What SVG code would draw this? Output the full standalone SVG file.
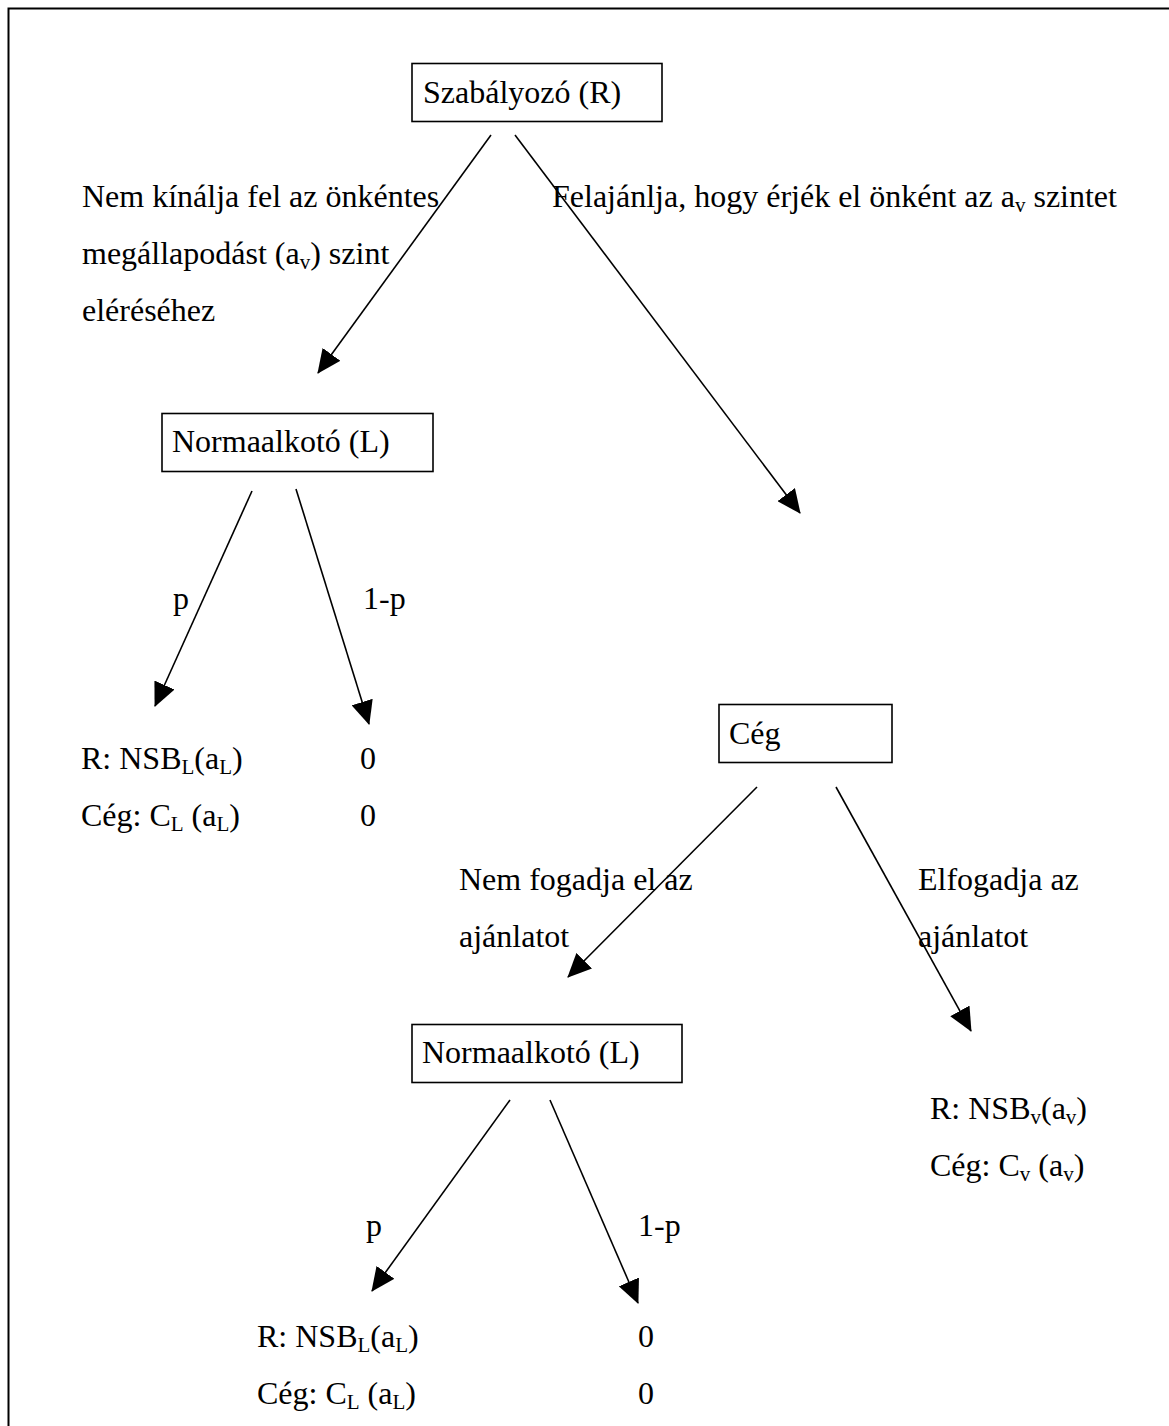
<svg xmlns="http://www.w3.org/2000/svg" width="1169" height="1426" viewBox="0 0 1169 1426">
<style>
text{font-family:"Liberation Serif","Times New Roman",serif;font-size:32px;fill:#000}
.sub{font-size:21px}
.box{fill:#fff;stroke:#000;stroke-width:1.6}
.edge{stroke:#000;stroke-width:1.6;fill:none;marker-end:url(#ah)}
</style>
<defs>
<marker id="ah" markerUnits="userSpaceOnUse" markerWidth="24" markerHeight="22" refX="23" refY="11" orient="auto">
<path d="M0,0 L24,11 L0,22 Z" fill="#000"/>
</marker>
</defs>
<rect width="1169" height="1426" fill="#fff"/>
<polyline points="8.5,1426 8.5,8.5 1169,8.5" fill="none" stroke="#000" stroke-width="2"/>
<g id="connectors">
<line class="edge" x1="491" y1="135" x2="318" y2="373"/>
<line class="edge" x1="515" y1="135" x2="800" y2="513"/>
<line class="edge" x1="252" y1="491" x2="155" y2="706"/>
<line class="edge" x1="296" y1="489" x2="369" y2="724"/>
<line class="edge" x1="757" y1="787" x2="568" y2="977"/>
<line class="edge" x1="836" y1="787" x2="971" y2="1031"/>
<line class="edge" x1="510" y1="1100" x2="372" y2="1291"/>
<line class="edge" x1="550" y1="1100" x2="638" y2="1303"/>
</g>
<g id="node-szabalyozo">
<rect class="box" x="412" y="63.5" width="250" height="58"/>
<text x="423" y="103">Szabályozó (R)</text>
</g>
<g id="label-nem-kinalja">
<text x="82" y="207">Nem kínálja fel az önkéntes</text>
<text x="82" y="264">megállapodást (a<tspan class="sub" dy="5">v</tspan><tspan dy="-5">) szint</tspan></text>
<text x="82" y="321">eléréséhez</text>
</g>
<g id="label-felajanlja">
<text x="552" y="207">Felajánlja, hogy érjék el önként az a<tspan class="sub" dy="5">v</tspan><tspan dy="-5"> szintet</tspan></text>
</g>
<g id="node-normaalkoto-1">
<rect class="box" x="162" y="413.5" width="271" height="58"/>
<text x="172" y="452">Normaalkotó (L)</text>
</g>
<g id="label-p-1"><text x="173" y="609">p</text></g>
<g id="label-1p-1"><text x="363" y="609">1-p</text></g>
<g id="leaf-1">
<text x="81" y="769">R: NSB<tspan class="sub" dy="5">L</tspan><tspan dy="-5">(a</tspan><tspan class="sub" dy="5">L</tspan><tspan dy="-5">)</tspan></text>
<text x="81" y="826">Cég: C<tspan class="sub" dy="5">L</tspan><tspan dy="-5"> (a</tspan><tspan class="sub" dy="5">L</tspan><tspan dy="-5">)</tspan></text>
</g>
<g id="leaf-2">
<text x="360" y="769">0</text>
<text x="360" y="826">0</text>
</g>
<g id="node-ceg">
<rect class="box" x="719" y="704.5" width="173" height="58"/>
<text x="729" y="744">Cég</text>
</g>
<g id="label-nem-fogadja">
<text x="459" y="890">Nem fogadja el az</text>
<text x="459" y="947">ajánlatot</text>
</g>
<g id="label-elfogadja">
<text x="918" y="890">Elfogadja az</text>
<text x="918" y="947">ajánlatot</text>
</g>
<g id="node-normaalkoto-2">
<rect class="box" x="412" y="1024.5" width="270" height="58"/>
<text x="422" y="1063">Normaalkotó (L)</text>
</g>
<g id="leaf-3">
<text x="930" y="1119">R: NSB<tspan class="sub" dy="5">v</tspan><tspan dy="-5">(a</tspan><tspan class="sub" dy="5">v</tspan><tspan dy="-5">)</tspan></text>
<text x="930" y="1176">Cég: C<tspan class="sub" dy="5">v</tspan><tspan dy="-5"> (a</tspan><tspan class="sub" dy="5">v</tspan><tspan dy="-5">)</tspan></text>
</g>
<g id="label-p-2"><text x="366" y="1236">p</text></g>
<g id="label-1p-2"><text x="638" y="1236">1-p</text></g>
<g id="leaf-4">
<text x="257" y="1347">R: NSB<tspan class="sub" dy="5">L</tspan><tspan dy="-5">(a</tspan><tspan class="sub" dy="5">L</tspan><tspan dy="-5">)</tspan></text>
<text x="257" y="1404">Cég: C<tspan class="sub" dy="5">L</tspan><tspan dy="-5"> (a</tspan><tspan class="sub" dy="5">L</tspan><tspan dy="-5">)</tspan></text>
</g>
<g id="leaf-5">
<text x="638" y="1347">0</text>
<text x="638" y="1404">0</text>
</g>
</svg>
